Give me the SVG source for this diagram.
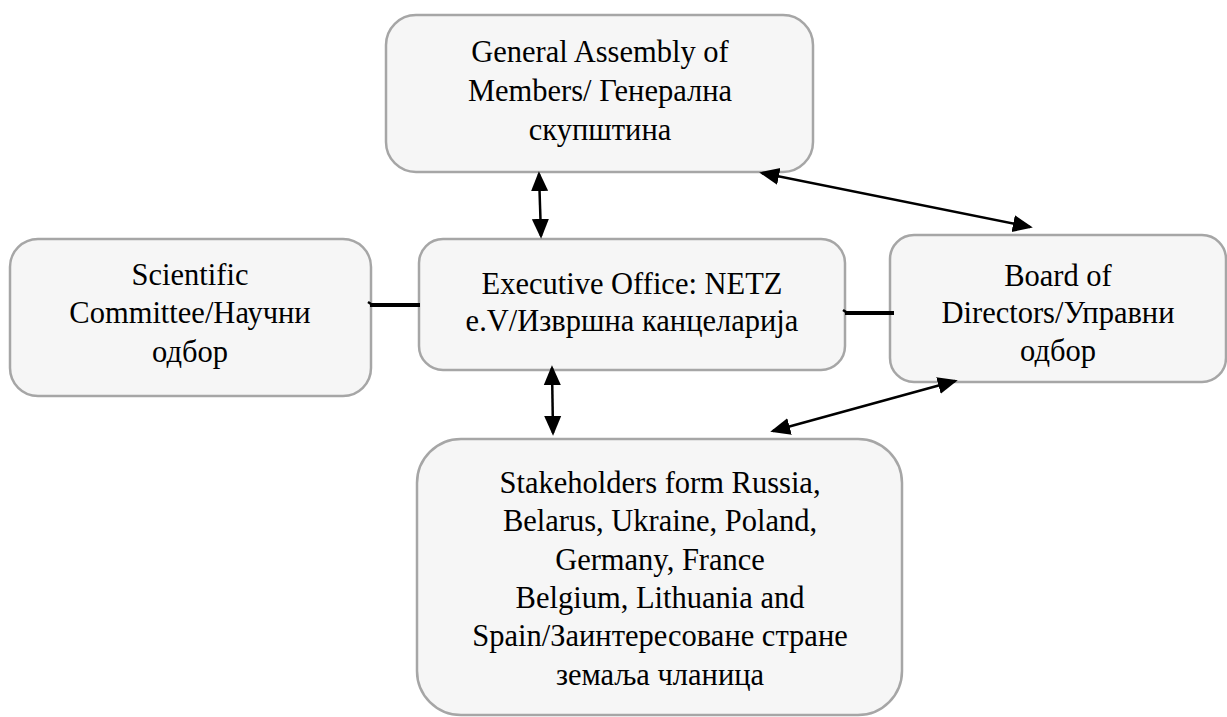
<svg xmlns="http://www.w3.org/2000/svg" width="1227" height="717" viewBox="0 0 1227 717">
<style>
.box{fill:#f6f6f6;stroke:#a6a6a6;stroke-width:2.5}
.t{font-family:"Liberation Serif","Times New Roman",serif;font-size:30.5px;fill:#000;text-anchor:middle}
.c{stroke:#000;stroke-width:2.5;fill:none}
.bar{stroke:#000;stroke-width:4;fill:none}
</style>
<defs>
<marker id="ah" markerWidth="8" markerHeight="8" refX="6" refY="3" orient="auto-start-reverse" markerUnits="strokeWidth" viewBox="0 0 7 6">
<path d="M0,0 L7,3 L0,6 z" fill="#000"/>
</marker>
</defs>
<rect width="1227" height="717" fill="#fff"/>
<g id="general-assembly">
<rect class="box" x="386" y="15" width="427" height="157" rx="30"/>
<text class="t" x="600" y="62">General Assembly of</text>
<text class="t" x="600" y="101">Members/ Генерална</text>
<text class="t" x="600" y="140">скупштина</text>
</g>
<g id="scientific-committee">
<rect class="box" x="10" y="239" width="361" height="157" rx="28"/>
<text class="t" x="190" y="285">Scientific</text>
<text class="t" x="190" y="323">Committee/Научни</text>
<text class="t" x="190" y="362">одбор</text>
</g>
<g id="executive-office">
<rect class="box" x="419" y="239" width="426" height="131" rx="24"/>
<text class="t" x="632" y="294">Executive Office: NETZ</text>
<text class="t" x="632" y="331">e.V/Извршна канцеларија</text>
</g>
<g id="board-of-directors">
<rect class="box" x="890" y="235" width="336" height="147" rx="24"/>
<text class="t" x="1058" y="286">Board of</text>
<text class="t" x="1058" y="323">Directors/Управни</text>
<text class="t" x="1058" y="361">одбор</text>
</g>
<g id="stakeholders">
<rect class="box" x="417" y="439" width="485" height="276" rx="44"/>
<text class="t" x="660" y="493">Stakeholders form Russia,</text>
<text class="t" x="660" y="531">Belarus, Ukraine, Poland,</text>
<text class="t" x="660" y="570">Germany, France</text>
<text class="t" x="660" y="608">Belgium, Lithuania and</text>
<text class="t" x="660" y="646">Spain/Заинтересоване стране</text>
<text class="t" x="660" y="685">земаља чланица</text>
</g>
<g id="connectors">
<line class="c" x1="539" y1="174" x2="541" y2="236" marker-start="url(#ah)" marker-end="url(#ah)"/>
<line class="c" x1="762" y1="173" x2="1030" y2="227" marker-start="url(#ah)" marker-end="url(#ah)"/>
<line class="c" x1="552" y1="368" x2="553" y2="433" marker-start="url(#ah)" marker-end="url(#ah)"/>
<line class="c" x1="955" y1="381" x2="773" y2="431" marker-start="url(#ah)" marker-end="url(#ah)"/>
<line class="bar" x1="370" y1="305" x2="420" y2="305"/>
<path class="c" d="M371,304 L368,302" stroke-width="2"/>
<line class="bar" x1="845" y1="313" x2="894" y2="313"/>
<path class="c" d="M846,312 L843,310" stroke-width="2"/>
</g>
</svg>
